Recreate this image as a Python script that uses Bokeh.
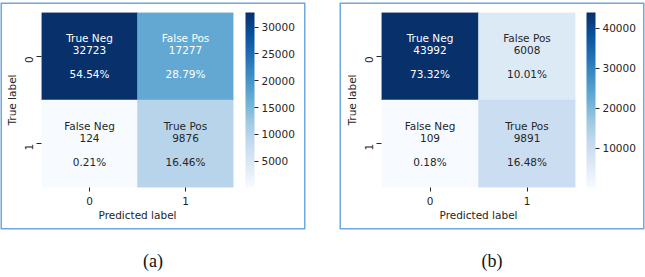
import numpy as np
from bokeh.plotting import figure
from bokeh.models import (ColumnDataSource, LinearColorMapper, ColorBar,
                          FixedTicker, FactorRange, Div)
from bokeh.layouts import row, column
from bokeh.embed import file_html
from bokeh.resources import INLINE
from bokeh.core.properties import value
from bokeh.palettes import Blues9

# ---------------- data ----------------
true_labels = ["0", "0", "1", "1"]
pred_labels = ["0", "1", "0", "1"]
group_names = ["True Neg", "False Pos", "False Neg", "True Pos"]
counts_a = [32723, 17277, 124, 9876]
counts_b = [43992, 6008, 109, 9891]
pcts_a = ["54.54%", "28.79%", "0.21%", "16.46%"]
pcts_b = ["73.32%", "10.01%", "0.18%", "16.48%"]
cbar_ticks_a = [5000, 10000, 15000, 20000, 25000, 30000]
cbar_ticks_b = [10000, 20000, 30000, 40000]
captions = ["(a)", "(b)"]

# ---------------- style ----------------
FONT = "DejaVu Sans"
FS = "10.5px"
DARK = "#262626"
BORDER = "#6fa8dc"


def hex2rgb(h):
    return tuple(int(h[i:i + 2], 16) for i in (1, 3, 5))


# matplotlib "Blues" = linear interpolation of the 9 ColorBrewer colours
base = [hex2rgb(c) for c in Blues9[::-1]]
pal_rgb = []
for i in range(256):
    t = i / 255 * (len(base) - 1)
    k = min(int(t), len(base) - 2)
    f = t - k
    pal_rgb.append(tuple(round(base[k][j] * (1 - f) + base[k + 1][j] * f) for j in range(3)))
pal = ["#%02x%02x%02x" % c for c in pal_rgb]


def lum(rgb):
    def lin(c):
        c = c / 255
        return c / 12.92 if c <= 0.03928 else ((c + 0.055) / 1.055) ** 2.4
    r, g, b = (lin(c) for c in rgb)
    return 0.2126 * r + 0.7152 * g + 0.0722 * b


def make_panel(counts, pcts, ticks, left, frame_w, min_right, cb_gap):
    lo, hi = min(counts), max(counts)
    mapper = LinearColorMapper(palette=pal, low=lo, high=hi)
    tcolors = []
    for v in counts:
        idx = min(255, int((v - lo) / (hi - lo) * 256))
        tcolors.append(DARK if lum(pal_rgb[idx]) > 0.408 else "white")
    src = ColumnDataSource(dict(x=pred_labels, y=true_labels, v=counts,
                                name=group_names, cnt=[str(c) for c in counts],
                                pct=pcts, tc=tcolors))
    p = figure(x_range=FactorRange("0", "1"), y_range=FactorRange("1", "0"),
               frame_width=frame_w, frame_height=175,
               min_border_left=left, min_border_right=min_right,
               min_border_top=8, min_border_bottom=41,
               output_backend="svg", toolbar_location=None, tools="",
               styles={"box-shadow": f"0 0 0 1.5px {BORDER}"})
    p.rect(x="x", y="y", width=1, height=1, source=src,
           fill_color={"field": "v", "transform": mapper},
           line_color={"field": "v", "transform": mapper}, line_width=0.5)
    for col, off in (("name", -18), ("cnt", -6), ("pct", 18)):
        p.text(x="x", y="y", text=col, text_color="tc", source=src,
               y_offset=off, text_align="center", text_baseline="middle",
               text_font=value(FONT), text_font_size=value(FS))
    p.grid.visible = False
    p.outline_line_color = None
    for ax in (p.xaxis[0], p.yaxis[0]):
        ax.axis_line_color = None
        ax.major_tick_line_color = DARK
        ax.major_tick_out = 4
        ax.major_tick_in = 0
        ax.major_label_text_font = FONT
        ax.major_label_text_font_size = FS
        ax.major_label_text_color = DARK
        ax.axis_label_text_font = FONT
        ax.axis_label_text_font_size = FS
        ax.axis_label_text_font_style = "normal"
        ax.axis_label_text_color = DARK
    p.xaxis.axis_label = "Predicted label"
    p.yaxis.axis_label = "True label"
    p.xaxis.axis_label_standoff = 1
    p.yaxis.major_tick_out = 5
    p.yaxis.major_label_standoff = 8
    p.yaxis.axis_label_standoff = 0
    p.yaxis.major_label_orientation = np.pi / 2

    cb = ColorBar(color_mapper=mapper, ticker=FixedTicker(ticks=ticks),
                  location=(cb_gap, 0), width=9, height=175, margin=0, padding=0,
                  major_tick_out=4, major_tick_in=0, major_tick_line_color=DARK,
                  minor_tick_line_color=None, label_standoff=3,
                  major_label_text_font=FONT, major_label_text_font_size=FS,
                  major_label_text_color=DARK, bar_line_color=None,
                  border_line_color=None, background_fill_color=None)
    p.add_layout(cb, "right")
    return p


def caption(txt):
    return Div(text=f"<div style=\"width:302px;font-family:'Liberation Serif';font-size:18px;"
                    f"text-align:center;margin-top:23px;line-height:20px;color:#111\">{txt}</div>",
               width=302, height=45)


pa = make_panel(counts_a, pcts_a, cbar_ticks_a, 39, 192, 71, 12)
pb = make_panel(counts_b, pcts_b, cbar_ticks_b, 40, 194, 68, 11)
pa.margin = (4, 0, 0, 2)
pb.margin = (4, 0, 0, 0)
ca = caption(captions[0])
cb_ = caption(captions[1])
ca.margin = (0, 0, 0, 2)
cb_.margin = (0, 0, 0, 0)

layout = row(column(pa, ca, spacing=0),
             column(pb, cb_, spacing=0), spacing=37)

open("out.html", "w").write(file_html(layout, INLINE))
